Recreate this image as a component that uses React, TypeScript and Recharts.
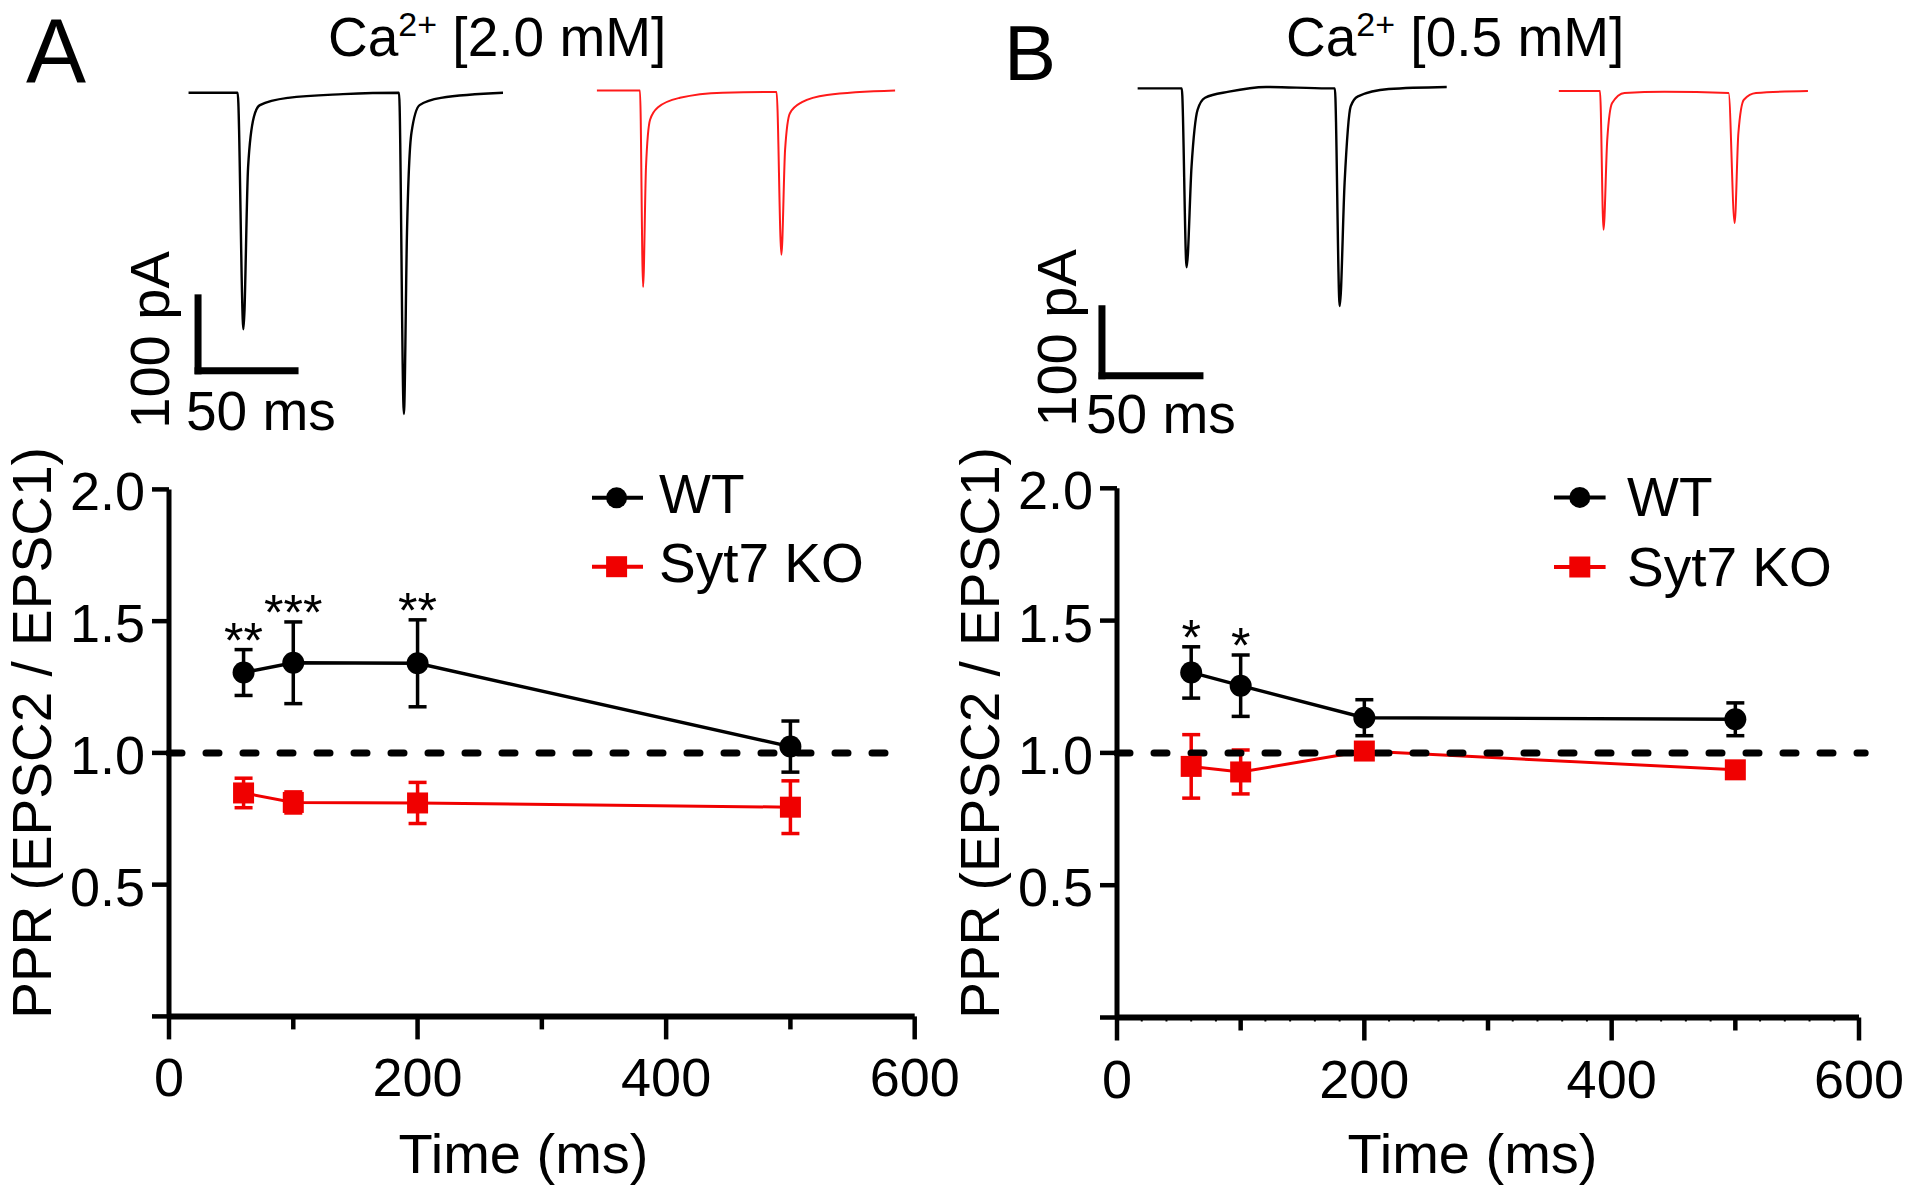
import React from 'react'
import { ComposedChart, LineChart, Line, XAxis, YAxis, ErrorBar, ReferenceLine, Scatter, Legend } from 'recharts'

const FONT = '"Liberation Sans", Arial, Helvetica, sans-serif'
const RED = '#f00000'

// paired-pulse intervals (ms)
const intervals = [60, 100, 200, 500]

// Ca2+ 2.0 mM
const wtA = [1.305, 1.342, 1.34, 1.024]
const wtAErr = [0.087, 0.155, 0.165, 0.097]
const koA = [0.848, 0.812, 0.81, 0.794]
const koAErr = [0.056, 0.04, 0.078, 0.1]
const starsA = ['**', '***', '**', '']

// Ca2+ 0.5 mM
const wtB = [1.304, 1.254, 1.133, 1.127]
const wtBErr = [0.097, 0.116, 0.068, 0.062]
const koB = [0.949, 0.928, 1.007, 0.936]
const koBErr = [0.12, 0.083, 0.03, 0.02]
const starsB = ['*', '*', '', '']

const yTicks = [0, 0.5, 1, 1.5, 2]
const xTicksA = [0, 100, 200, 300, 400, 500, 600]
const xTicksB = [0, 20, 40, 60, 80, 100, 120, 140, 160, 180, 200, 220, 240, 260, 280, 300,
  320, 340, 360, 380, 400, 420, 440, 460, 480, 500, 520, 540, 560, 580, 600]

// example EPSC traces, [ms, pA]
const traceWtA = [[4.4, -1], [29.7, -1], [32.7, -325], [35.1, -103], [38.1, -34], [41.2, -18], [55.7, -8], [84, -3],
  [112.9, -1], [115.4, -441], [117, -193], [119.3, -56], [123.5, -18], [134.5, -8], [166.5, -1]]
const traceKoA = [[214.9, 2], [237.1, 2], [238.7, -267], [240.2, -103], [242.3, -38], [246.4, -21], [257.7, -8], [279.7, -1],
  [307.5, 0], [310, -223], [311.9, -79], [314.4, -29], [320.6, -14], [333.5, -4], [368.6, 2]]
const traceWtB = [[19.2, 1], [41.7, 1], [44.2, -266], [46.7, -116], [49.8, -31], [53.6, -13], [65.8, -4], [84.7, 3],
  [116, 1], [119.8, 1], [122.3, -324], [124.8, -140], [127.9, -26], [131.6, -11], [147.3, 0], [176.9, 3]]
const traceKoB = [[234.1, -3], [255.1, -3], [256.9, -210], [258.8, -76], [261.3, -21], [267.6, -6], [287.9, -4],
  [320.7, -6], [323.8, -200], [325.7, -66], [328.5, -16], [334.7, -6], [361.2, -3]]

const SCALE_MS = 50
const SCALE_PA = 100

const toPts = (arr: number[][]) => arr.map(([t, pA]) => ({ t, pA }))

function TraceChart({ left, margin, xDomain, yDomain, wt, ko, bar }: any) {
  return (
    <div style={{ position: 'absolute', left, top: 0 }}>
      <LineChart width={960} height={440} margin={margin}>
        <XAxis type="number" dataKey="t" domain={xDomain} hide allowDataOverflow />
        <YAxis type="number" domain={yDomain} hide allowDataOverflow />
        <Line data={toPts(wt)} dataKey="pA" type="monotone" stroke="#000" strokeWidth={2.4} dot={false} isAnimationActive={false} />
        <Line data={toPts(ko)} dataKey="pA" type="monotone" stroke="#ff1a1a" strokeWidth={2} dot={false} isAnimationActive={false} />
        <ReferenceLine segment={[{ x: bar[0], y: bar[1] + SCALE_PA }, { x: bar[0], y: bar[1] }]}
          stroke="#000" strokeWidth={7} strokeLinecap="square" ifOverflow="visible" />
        <ReferenceLine segment={[{ x: bar[0], y: bar[1] }, { x: bar[0] + SCALE_MS, y: bar[1] }]}
          stroke="#000" strokeWidth={7} strokeLinecap="square" ifOverflow="visible" />
      </LineChart>
    </div>
  )
}

function LegendBox({ g }: any) {
  return (
    <svg width={340} height={150} style={{ overflow: 'visible' }}>
      <line x1={g.x1} x2={g.x2} y1={g.cy1} y2={g.cy1} stroke="#000" strokeWidth={4} />
      <circle cx={g.cx} cy={g.cy1} r={10.5} fill="#000" />
      <text x={g.tx} y={g.b1} fontSize={55} fontFamily={FONT}>WT</text>
      <line x1={g.x1} x2={g.x2} y1={g.cy2} y2={g.cy2} stroke={RED} strokeWidth={4} />
      <rect x={g.cx - 10.5} y={g.cy2 - 10.5} width={21} height={21} fill={RED} />
      <text x={g.tx} y={g.b2} fontSize={55} fontFamily={FONT}>Syt7 KO</text>
    </svg>
  )
}

function PprChart(p: any) {
  const data = intervals.map((t, i) => ({ t, wt: p.wt[i], wtErr: p.wtErr[i], ko: p.ko[i], koErr: p.koErr[i] }))
  const starData = intervals
    .map((t, i) => ({ t, y: p.wt[i] + p.wtErr[i], s: p.stars[i] }))
    .filter((d) => d.s)

  const xTick = (props: any) => {
    const { x, y, payload } = props
    const v = payload.value
    const len = v % 200 === 0 ? 23 : v % 100 === 0 ? 13 : 4
    return (
      <g>
        <line x1={x} x2={x} y1={y} y2={y + len} stroke="#000" strokeWidth={v % 100 === 0 ? 4.5 : 2} />
        {v % 200 === 0 && (
          <text x={x} y={y + 80} textAnchor="middle" fontSize={54} fontFamily={FONT} fill="#000">{v}</text>
        )}
      </g>
    )
  }
  const yTick = (props: any) => {
    const { x, y, payload } = props
    if (payload.value === 0) return <g />
    return (
      <text x={x} y={y + 21} textAnchor="end" fontSize={54} fontFamily={FONT} fill="#000">
        {payload.value.toFixed(1)}
      </text>
    )
  }

  return (
    <div style={{ position: 'absolute', left: p.left, top: 440 }}>
      <ComposedChart width={p.width} height={751} data={data} margin={p.margin}>
        <XAxis type="number" dataKey="t" domain={[0, 600]} ticks={p.xTicks} interval={0}
          height={p.xAxisHeight} tickSize={0} tickMargin={0} tickLine={false} tick={xTick}
          axisLine={{ stroke: '#000', strokeWidth: 6 }}
          label={{ content: () => (
            <text x={p.xLabelX} y={733} textAnchor="middle" fontSize={56} fontFamily={FONT} fill="#000">Time (ms)</text>
          ) }} />
        <YAxis type="number" domain={[0, 2]} ticks={yTicks} interval={0} width={100}
          tickSize={17} tickMargin={7} tickLine={{ stroke: '#000', strokeWidth: 4.5 }} tick={yTick}
          axisLine={{ stroke: '#000', strokeWidth: 5 }}
          label={{ content: () => (
            <text x={p.yLabelX} y={293} transform={`rotate(-90, ${p.yLabelX}, 293)`} textAnchor="middle"
              fontSize={55} fontFamily={FONT} fill="#000">PPR (EPSC2 / EPSC1)</text>
          ) }} />
        <Line dataKey="ko" type="linear" stroke={RED} strokeWidth={3} isAnimationActive={false}
          dot={(d: any) => <rect key={`ko-${d.index}`} x={d.cx - 10.5} y={d.cy - 10.5} width={21} height={21} fill={RED} />}>
          <ErrorBar dataKey="koErr" direction="y" width={9} stroke={RED} strokeWidth={3.5} />
        </Line>
        <ReferenceLine segment={[{ x: 0, y: 1 }, { x: p.dashEnd, y: 1 }]} stroke="#000" strokeWidth={7}
          strokeDasharray="13 24" strokeLinecap="round" ifOverflow="visible" />
        <Line dataKey="wt" type="linear" stroke="#000" strokeWidth={3.4} isAnimationActive={false}
          dot={(d: any) => <circle key={`wt-${d.index}`} cx={d.cx} cy={d.cy} r={11} fill="#000" />}>
          <ErrorBar dataKey="wtErr" direction="y" width={9} stroke="#000" strokeWidth={3.5} />
        </Line>
        <Scatter data={starData} dataKey="y" isAnimationActive={false}
          shape={(s: any) => (
            <text x={s.cx} y={s.cy + 8} textAnchor="middle" fontSize={50} fontFamily={FONT} fill="#000">{s.payload.s}</text>
          )} />
        <Legend layout="vertical" align="center" verticalAlign="middle"
          wrapperStyle={{ position: 'absolute', left: p.legendLeft, top: 20, width: 340, height: 150 }}
          content={() => <LegendBox g={p.legend} />} />
      </ComposedChart>
    </div>
  )
}

export default function App() {
  return (
    <div style={{ position: 'absolute', left: 0, top: 0, width: 1920, height: 1191, background: '#fff', fontFamily: FONT }}>
      <TraceChart left={0} margin={{ top: 60, left: 180, right: 40, bottom: 0 }}
        xDomain={[0, 381.44]} yDomain={[-476.7, 43.8]} wt={traceWtA} ko={traceKoA} bar={[9.3, -382]} />
      <TraceChart left={960} margin={{ top: 60, left: 140, right: 60, bottom: 0 }}
        xDomain={[0, 387.76]} yDomain={[-523.9, 43.28]} wt={traceWtB} ko={traceKoB} bar={[1.0, -428]} />

      <PprChart left={0} width={960} margin={{ top: 49.4, left: 69, right: 45.3, bottom: 0 }} xAxisHeight={174.6}
        wt={wtA} wtErr={wtAErr} ko={koA} koErr={koAErr} stars={starsA} xTicks={xTicksA} dashEnd={590}
        yLabelX={51} xLabelX={523.5} legendLeft={580}
        legend={{ x1: 12, x2: 63, cx: 36.6, cy1: 37.8, cy2: 106.7, tx: 79, b1: 53, b2: 122 }} />
      <PprChart left={940} width={980} margin={{ top: 48.3, left: 77, right: 61, bottom: 0 }} xAxisHeight={173.5}
        wt={wtB} wtErr={wtBErr} ko={koB} koErr={koBErr} stars={starsB} xTicks={xTicksB} dashEnd={605}
        yLabelX={59} xLabelX={532.5} legendLeft={600}
        legend={{ x1: 14, x2: 65.6, cx: 39.8, cy1: 37.4, cy2: 107, tx: 87, b1: 56, b2: 126 }} />

      <svg width={1920} height={480} style={{ position: 'absolute', left: 0, top: 0, pointerEvents: 'none' }}>
        <g fontFamily={FONT} fill="#000">
          <text x={26} y={82} fontSize={90}>A</text>
          <text x={1004} y={80} fontSize={78}>B</text>
          <text x={328} y={56} fontSize={55}>
            Ca<tspan dy={-20} fontSize={34}>2+</tspan><tspan dy={20}> [2.0 mM]</tspan>
          </text>
          <text x={1286} y={56} fontSize={55}>
            Ca<tspan dy={-20} fontSize={34}>2+</tspan><tspan dy={20}> [0.5 mM]</tspan>
          </text>
          <text x={169} y={340} transform="rotate(-90, 169, 340)" textAnchor="middle" fontSize={56}>100 pA</text>
          <text x={186} y={430} fontSize={55}>50 ms</text>
          <text x={1076} y={338} transform="rotate(-90, 1076, 338)" textAnchor="middle" fontSize={56}>100 pA</text>
          <text x={1086} y={433} fontSize={55}>50 ms</text>
        </g>
      </svg>
    </div>
  )
}
